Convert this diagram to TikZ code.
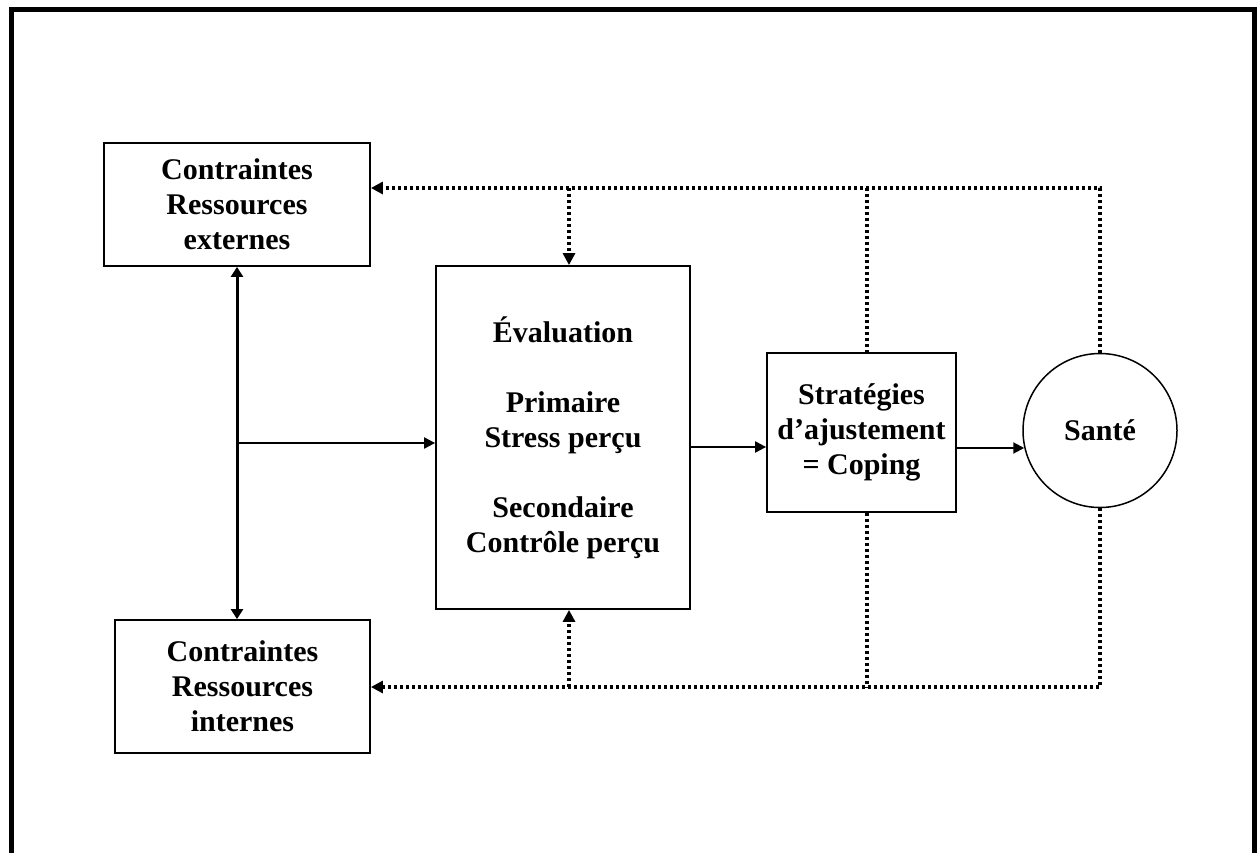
\documentclass[tikz,border=0pt]{standalone}
\usepackage{fontspec}
\setmainfont{Liberation Serif}
\usetikzlibrary{arrows.meta,calc}
\begin{document}
\begin{tikzpicture}[x=1pt,y=-1pt,
  box/.style={draw,line width=1.8pt,inner sep=0pt,align=center,font=\bfseries\fontsize{30}{35}\selectfont},
  solidarrow/.style={line width=2pt,-{Triangle[length=11pt,width=11pt]}},
  dotline/.style={line width=3.5pt,dash pattern=on 3pt off 3pt},
  dottip/.style={-{Triangle[length=12pt,width=12pt]}}]
\useasboundingbox (0,0) rectangle (1260,852);
% frame
\draw[line width=4.5pt] (11.5,870) -- (11.5,9.5) -- (1254.5,9.5) -- (1254.5,870);
% nodes
\node[box,minimum width=266pt,minimum height=123pt] (ext) at (237,204.5) {Contraintes\\Ressources\\externes};
\node[box,minimum width=255pt,minimum height=133pt] (int) at (242.5,686.5) {Contraintes\\Ressources\\internes};
\node[box,minimum width=254pt,minimum height=343pt] (eval) at (563,437.5) {Évaluation\\[35pt]Primaire\\Stress perçu\\[35pt]Secondaire\\Contrôle perçu};
\node[box,minimum width=189pt,minimum height=159pt] (coping) at (861.5,432.5) {Stratégies\\d’ajustement\\= Coping};
\node[circle,draw,line width=1.5pt,minimum size=154pt,inner sep=0pt,font=\bfseries\fontsize{30}{35}\selectfont] (sante) at (1100,430.5) {Santé};
% coordinates
\coordinate (top) at (0,188);
\coordinate (bot) at (0,687);
\coordinate (tev) at (569,188);
\coordinate (bev) at (569,687);
\coordinate (tcop) at (867,188);
\coordinate (bcop) at (867,687);
\coordinate (join) at (237,443);
\coordinate (mid) at (0,447);
% solid connectors
\draw[line width=3pt,{Triangle[length=10pt,width=12pt]}-{Triangle[length=10pt,width=12pt]}] (ext.south) -- (ext.south |- int.north);
\draw[solidarrow] (join) -- (join -| eval.west);
\draw[solidarrow] (eval.east |- mid) -- (coping.west |- mid);
\draw[solidarrow] (coping.east |- sante.193) -- (sante.193);
% dotted feedback
\draw[dotline,dottip] (sante.north) -- (sante.north |- top) -- (ext.east |- top);
\draw[dotline,dottip] (tev) -- (tev |- eval.north);
\draw[dotline] (tcop) -- (tcop |- coping.north);
\draw[dotline,dottip] (sante.south) -- (sante.south |- bot) -- (int.east |- bot);
\draw[dotline,dottip] (bev) -- (bev |- eval.south);
\draw[dotline] (coping.south -| bcop) -- (bcop);
\end{tikzpicture}
\end{document}
